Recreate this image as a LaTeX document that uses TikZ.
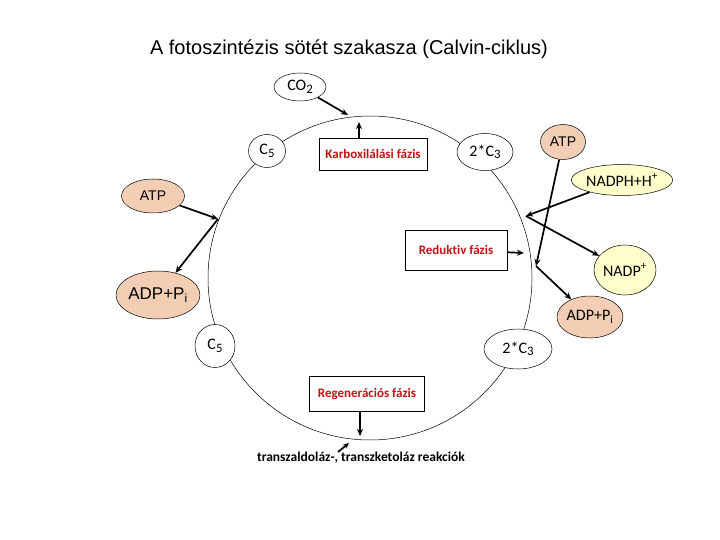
\documentclass[tikz,border=0pt]{standalone}
\usepackage{fontspec}
\setmainfont{Liberation Sans}
\newfontfamily\calfont[Ligatures=CommonOff]{Carlito}
\usetikzlibrary{shapes.geometric,arrows.meta}
\definecolor{salmon}{RGB}{243,206,180}
\definecolor{paleyel}{RGB}{255,255,204}
\definecolor{darkred}{RGB}{190,20,20}
\newcommand\lowsub[1]{\raisebox{-0.35ex}{\scalebox{0.8}{#1}}}
\tikzset{
  ell/.style={draw, ellipse, line width=0.5pt, fill=white, inner sep=0pt},
  atpell/.style={ell, fill=salmon},
  yell/.style={ell, fill=paleyel},
  phasebox/.style={draw, rectangle, line width=0.6pt, fill=white, inner sep=0pt, text=darkred, font=\calfont\bfseries\fontsize{13}{15}\selectfont},
  arr/.style={line width=1.7pt, -{Stealth[length=7pt,width=6pt]}},
  cal/.style={font=\calfont\fontsize{16}{18}\selectfont},
  ari/.style={font=\fontsize{14}{16}\selectfont}
}
\begin{document}
\begin{tikzpicture}[x=1pt,y=-1pt]
\useasboundingbox (0,0) rectangle (720,540);
% title
\node[font=\fontsize{20}{24}\selectfont] (title) at (349,49) {A fotoszintézis sötét szakasza (Calvin-ciklus)};
% cycle
\node[draw, circle, minimum size=324pt, line width=0.5pt, inner sep=0pt] (cyc) at (370,278) {};
% coordinates on the cycle
\coordinate (tCO2) at (348,115);
\coordinate (tKarb) at (359,122);
\coordinate (tL) at (218,219);
\coordinate (tR1) at (526,216);
\coordinate (tR2) at (536,266);
\coordinate (tRed) at (524,253);
\coordinate (tReg) at (360,436);
\coordinate (sTr) at (338,452);
\coordinate (eTr) at (349,443);
% nodes
\node[ell, cal, minimum width=52pt, minimum height=28pt] (co2) at (300,87) {CO\lowsub{2}};
\node[ell, cal, minimum width=37pt, minimum height=33pt] (c5a) at (267,151) {C\lowsub{5}};
\node[ell, cal, minimum width=56pt, minimum height=37pt] (c3a) at (485,152) {2*C\lowsub{3}};
\node[phasebox, minimum width=108pt, minimum height=32pt] (karb) at (373,154) {Karboxilálási fázis};
\node[atpell, ari, minimum width=45pt, minimum height=35pt] (atpr) at (563,142) {ATP};
\node[yell, cal, minimum width=97pt, minimum height=31pt] (nadph) at (622,180) {NADPH+H\textsuperscript{+}};
\node[atpell, ari, minimum width=63pt, minimum height=34pt] (atpl) at (153,196) {ATP};
\node[atpell, font=\fontsize{17}{20}\selectfont, minimum width=74pt, minimum height=48pt] (adpl) at (158,295) {ADP+P\textsubscript{i}};
\node[phasebox, minimum width=102pt, minimum height=40pt] (red) at (456,250) {Reduktiv fázis};
\node[yell, cal, minimum width=62pt, minimum height=50pt] (nadp) at (625,270) {NADP\textsuperscript{+}};
\node[atpell, cal, minimum width=63pt, minimum height=42pt] (adpr) at (590,317) {ADP+P\textsubscript{i}};
\node[ell, cal, minimum width=68pt, minimum height=40pt] (c3b) at (518,349) {2*C\lowsub{3}};
\node[ell, cal, minimum width=40pt, minimum height=43pt] (c5b) at (215,346) {C\lowsub{5}};
\node[phasebox, minimum width=115pt, minimum height=35pt] (reg) at (367,394) {Regenerációs fázis};
\node[font=\calfont\bfseries\fontsize{13.5}{15}\selectfont] (trans) at (361,458) {transzaldoláz-, transzketoláz reakciók};
% arrows
\draw[arr] (co2) -- (tCO2);
\draw[arr] (karb.north -| tKarb) -- (tKarb);
\draw[arr] (atpl) -- (tL);
\draw[arr] (tL) -- (adpl);
\draw[arr] (nadph) -- (tR1);
\draw[arr] (tR1) -- (nadp);
\draw[arr] (atpr) -- (tR2);
\draw[arr] (tR2) -- (adpr);
\draw[arr] (red) -- (tRed);
\draw[arr] (reg.south -| tReg) -- (tReg);
\draw[line width=1.7pt, -{Stealth[length=6pt,width=5pt]}] (sTr) -- (eTr);
\end{tikzpicture}
\end{document}
